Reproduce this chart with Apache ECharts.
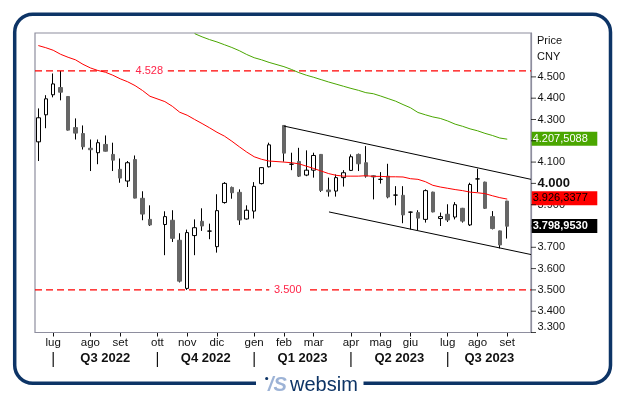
<!DOCTYPE html>
<html><head><meta charset="utf-8">
<script src="https://cdn.jsdelivr.net/npm/echarts@6/dist/echarts.min.js"></script>
<style>html,body{margin:0;padding:0;background:#fff}#c{width:626px;height:399px}</style>
</head><body><div id="c"></div>
<script>
// ---- data (weekly bars, dated by Friday) ----
const weeks = [
'2022-06-17','2022-06-24','2022-07-01','2022-07-08','2022-07-15','2022-07-22','2022-07-29',
'2022-08-05','2022-08-12','2022-08-19','2022-08-26','2022-09-02','2022-09-09','2022-09-16',
'2022-09-23','2022-09-30','2022-10-07','2022-10-14','2022-10-21','2022-10-28','2022-11-04',
'2022-11-11','2022-11-18','2022-11-25','2022-12-02','2022-12-09','2022-12-16','2022-12-23',
'2022-12-30','2023-01-06','2023-01-13','2023-01-20','2023-01-27','2023-02-03','2023-02-10',
'2023-02-17','2023-02-24','2023-03-03','2023-03-10','2023-03-17','2023-03-24','2023-03-31',
'2023-04-07','2023-04-14','2023-04-21','2023-04-28','2023-05-05','2023-05-12','2023-05-19',
'2023-05-26','2023-06-02','2023-06-09','2023-06-16','2023-06-23','2023-06-30','2023-07-07',
'2023-07-14','2023-07-21','2023-07-28','2023-08-04','2023-08-11','2023-08-18','2023-08-25',
'2023-09-01','2023-09-08','2023-09-15','2023-09-22'];
const open = [4.195,4.322,4.416,4.450,4.408,4.262,4.234,4.165,4.144,4.183,4.136,4.066,4.011,4.112,3.930,3.831,null,
3.807,3.827,3.733,3.507,3.755,3.822,3.776,3.703,3.910,3.981,3.958,3.833,3.870,3.999,4.078,null,
4.272,4.090,4.103,4.039,4.062,4.136,3.969,3.964,4.027,4.061,4.136,4.097,4.036,4.019,4.034,3.945,
3.944,3.865,3.863,3.831,3.959,3.835,3.855,3.842,3.883,3.805,4.021,4.006,3.844,3.777,3.917];
const close = [4.308,4.397,4.467,4.428,4.250,4.236,4.172,4.158,4.191,4.151,4.109,4.025,4.097,3.931,3.856,3.805,null,
3.844,3.742,3.541,3.769,3.792,3.800,3.776,3.872,4.000,3.956,3.828,3.874,3.986,4.074,4.181,null,
4.142,4.090,4.034,4.062,4.131,3.967,3.961,4.027,4.050,4.125,4.092,4.034,4.030,4.019,3.936,3.945,
3.852,3.865,3.837,3.966,3.866,3.844,3.828,3.900,3.823,3.995,4.021,3.883,3.788,3.711,3.798953];
const low = [4.105,4.259,4.404,4.390,4.248,4.206,4.159,4.058,4.090,4.150,4.058,4.003,3.983,3.930,3.827,3.800,null,
3.663,3.725,3.535,3.500,3.663,3.777,3.738,3.675,3.905,3.928,3.805,3.830,3.835,3.995,4.075,null,
4.102,4.062,4.030,4.034,4.027,3.960,3.938,3.938,3.985,4.058,4.058,4.027,3.925,3.999,3.930,3.897,
3.813,3.784,3.780,3.816,3.864,3.800,3.819,3.831,3.816,3.800,3.959,3.880,3.784,3.695,3.741];
const high = [4.352,4.414,4.516,4.528,4.410,4.305,4.272,4.206,4.206,4.225,4.191,4.117,4.105,4.131,3.963,3.897,null,
3.869,3.874,3.766,3.783,3.831,3.883,3.811,3.949,4.006,3.985,3.972,3.897,4.006,4.076,4.191,null,
4.274,4.144,4.167,4.155,4.144,4.138,4.027,4.042,4.062,4.136,4.140,4.175,4.038,4.053,4.092,3.987,
3.987,3.868,3.874,3.972,3.961,3.863,3.902,3.912,3.885,4.003,4.069,4.008,3.870,3.778,3.918];
const maRed = [4.647,4.637,4.625,4.606,4.592,4.580,4.559,4.542,4.530,4.522,4.508,4.491,4.477,4.459,4.436,4.409,null,
4.384,4.362,4.334,4.320,4.300,4.281,4.261,4.240,4.222,4.198,4.172,4.147,4.125,4.113,4.105,null,
4.100,4.097,4.092,4.081,4.070,4.058,4.046,4.038,4.034,4.034,4.034,4.036,4.033,4.033,4.031,4.031,
4.030,4.022,4.019,4.008,3.991,3.983,3.977,3.971,3.966,3.959,3.956,3.952,3.942,3.933,3.9263377];
const maGreen = [null,null,null,null,null,null,null,null,null,null,null,null,null,null,null,null,null,
null,null,null,null,4.703,4.688,4.675,4.664,4.651,4.638,4.623,4.605,4.590,4.580,4.568,null,
4.548,4.535,4.520,4.508,4.498,4.487,4.476,4.466,4.456,4.446,4.437,4.426,4.421,4.410,4.398,4.386,
4.370,4.355,4.333,4.322,4.312,4.305,4.293,4.278,4.268,4.256,4.247,4.235,4.225,4.213,4.2075088];
const levels = [4.528, 3.500];
const levelLabels = ['4.528', '3.500'];
const channelTop = [[33, 4.269], [66.19, 4.019]];
const channelBottom = [[39.05, 3.866], [66.19, 3.666]];
const yTicks = [3.3,3.4,3.5,3.6,3.7,3.8,3.9,4.0,4.1,4.2,4.3,4.4,4.5];
const monthNames = ['gen','feb','mar','apr','mag','giu','lug','ago','set','ott','nov','dic'];

// ---- helpers ----
const FONT = 'Liberation Sans, Arial, sans-serif';
const mon = s => +s.slice(5,7) - 1;
const yr = s => s.slice(0,4);
const isMonthStart = i => i > 0 && mon(weeks[i]) !== mon(weeks[i-1]);
const fmt = v => { const s = v.toFixed(7); return s.slice(0,5) + ',' + s.slice(5); };
const last = a => a[a.length-1];

const wicks = open.map((o,i) => o == null ? '-' : [Math.min(o,close[i]), Math.min(o,close[i]), low[i], high[i]]);
const bodies = open.map((o,i) => o == null ? '-' : [o, close[i], Math.min(o,close[i]), Math.max(o,close[i])]);

const PLOT = {left:35, top:33, right:531, bottom:332.5};
const xLeftV = -0.446, xRightV = 66.19;

const valueBox = (v, bg, fg, bold) => ({
  silent: true, symbol: 'none', animation: false,
  lineStyle: {color: 'rgba(0,0,0,0)', width: 1},
  data: [{yAxis: v}],
  label: {show: true, position: 'end', distance: -1.6, formatter: fmt(v), backgroundColor: bg,
    color: fg, fontWeight: bold ? 'bold' : 'normal', fontSize: 11, lineHeight: 14,
    padding: [0,1,0,1], width: 63.6, fontFamily: FONT}
});

const chart = echarts.init(document.getElementById('c'), null, {renderer:'canvas'});
const option = {
  animation: false,
  backgroundColor: '#fff',
  grid: {left: 34.6, right: 92.7, top: 33, bottom: 66.5, containLabel: false},
  xAxis: [{
    type: 'category', data: weeks, boundaryGap: true, gridIndex: 0,
    axisLine: {show: false, onZero: false},
    axisTick: {show: true, alignWithLabel: true, length: 4, interval: (i) => isMonthStart(i), lineStyle: {color: '#111', width: 1}},
    axisLabel: {show: true, interval: (i) => isMonthStart(i), formatter: (v) => monthNames[mon(v)],
      margin: 4.5, fontSize: 11.5, color: '#111', fontFamily: FONT},
    splitLine: {show: false}
  }, {
    type: 'value', gridIndex: 0, min: -0.5, max: weeks.length - 0.5, show: false,
    axisLine: {onZero: false}
  }],
  yAxis: {
    type: 'value', position: 'right', offset: -2.3, min: 3.3, max: 4.706,
    splitLine: {show: false}, axisLine: {show: true, onZero: false, lineStyle: {color: '#8e8e9e', width: 1.2}},
    axisTick: {show: false},
    axisLabel: {show: true, customValues: yTicks, margin: 6.5, fontSize: 11, color: '#111', fontFamily: FONT,
      verticalAlignMinLabel: 'bottom',
      formatter: v => Math.abs(v - 4) < 1e-9 ? '{b|' + v.toFixed(3) + '}' : v.toFixed(3),
      rich: {b: {fontSize: 13, fontWeight: 'bold', color: '#111', fontFamily: FONT}}}
  },
  series: [
    {type: 'candlestick', name: 'wick', data: wicks, barWidth: 1, z: 2,
     itemStyle: {color: '#000', color0: '#000', borderColor: '#000', borderColor0: '#000', borderColorDoji: '#000', borderWidth: 1}},
    {type: 'candlestick', name: 'body', data: bodies, barWidth: 4, z: 3,
     itemStyle: {color: '#fff', color0: '#666', borderColor: '#000', borderColor0: '#666', borderColorDoji: '#000', borderWidth: 1},
     markLine: valueBox(last(close), '#000', '#fff', true)},
    {type: 'line', name: 'maRed', data: maRed, connectNulls: true, symbol: 'none', z: 4,
     lineStyle: {color: '#ff0000', width: 1},
     markLine: valueBox(last(maRed), '#ff0000', '#000', false)},
    {type: 'line', name: 'maGreen', data: maGreen, connectNulls: true, symbol: 'none', z: 4,
     lineStyle: {color: '#4aa600', width: 1},
     markLine: valueBox(last(maGreen), '#4aa600', '#fff', false)},
    {type: 'line', name: 'chTop', xAxisIndex: 1, data: channelTop, symbol: 'none', z: 4,
     lineStyle: {color: '#000', width: 1}},
    {type: 'line', name: 'chBottom', xAxisIndex: 1, data: channelBottom, symbol: 'none', z: 4,
     lineStyle: {color: '#000', width: 1}},
    // right-axis tick marks, placed by the y scale
    {type: 'scatter', name: 'yTicks', xAxisIndex: 1, data: yTicks.map(v => [xRightV, v]), z: 5, silent: true,
     clip: false, symbol: 'rect', symbolSize: [5, 1], symbolOffset: [2.5, 0], itemStyle: {color: '#111'}},
  ].concat(levels.map((lv, k) => ({
    type: 'line', xAxisIndex: 1, data: [[xLeftV, lv], [xRightV, lv]], symbol: 'none', z: 3,
    lineStyle: {color: '#ff0000', width: 1.2, type: [7, 4]},
    markPoint: {silent: true, symbol: 'rect', symbolSize: [37, 10], itemStyle: {color: '#fff'},
      data: [{coord: [[14.91, 33.51][k], lv]}],
      label: {show: true, position: 'inside', formatter: levelLabels[k], color: '#ff2448', fontSize: 11, fontFamily: FONT}}
  })))
};
chart.setOption(option);

// ---- decorations & quarter labels ----
const px = i => chart.convertToPixel({xAxisIndex: 0}, weeks[i]);
const qStarts = [];
for (let i = 1; i < weeks.length; i++) if (isMonthStart(i) && mon(weeks[i]) % 3 === 0) qStarts.push(i);
const g = [];
g.push({type: 'rect', z: 0, shape: {x: 14.7, y: 14.3, width: 595.8, height: 369, r: 18},
  style: {fill: 'transparent', stroke: '#0d3466', lineWidth: 3.5}});
g.push({type: 'rect', z: 1, shape: {x: 256, y: 378, width: 107.5, height: 12}, style: {fill: '#fff'}});
g.push({type: 'rect', z: 1, shape: {x: PLOT.left, y: PLOT.top, width: PLOT.right - PLOT.left, height: PLOT.bottom - PLOT.top},
  style: {fill: 'transparent', stroke: '#8e8e9e', lineWidth: 1.2}});
g.push({type: 'circle', z: 2, shape: {cx: 266.7, cy: 378.5, r: 1.6}, style: {fill: '#0d3466'}});
g.push({type: 'text', z: 2, x: 268, y: 385.5, style: {text: '/S', font: 'italic bold 20px ' + FONT, fill: '#9db3d6', textVerticalAlign: 'middle'}});
g.push({type: 'text', z: 2, x: 290, y: 385.5, style: {text: 'websim', font: '20px ' + FONT, fill: '#0d3466', textVerticalAlign: 'middle'}});
g.push({type: 'text', z: 2, x: 537, y: 41, style: {text: 'Price', font: '11px ' + FONT, fill: '#111', textVerticalAlign: 'middle'}});
g.push({type: 'text', z: 2, x: 537, y: 57, style: {text: 'CNY', font: '11px ' + FONT, fill: '#111', textVerticalAlign: 'middle'}});
qStarts.forEach((qi, k) => {
  const x0 = px(qi);
  const x1 = k + 1 < qStarts.length ? px(qStarts[k+1]) : PLOT.right;
  g.push({type: 'line', z: 2, shape: {x1: x0, y1: 352, x2: x0, y2: 367}, style: {stroke: '#111', lineWidth: 1.2}});
  const m = mon(weeks[qi]);
  g.push({type: 'text', z: 2, x: (x0 + x1) / 2, y: 358.5,
    style: {text: 'Q' + (Math.floor(m / 3) + 1) + ' ' + yr(weeks[qi]), font: 'bold 13px ' + FONT, fill: '#111',
      textAlign: 'center', textVerticalAlign: 'middle'}});
});
chart.setOption({graphic: {elements: g}});
</script>
</body></html>
